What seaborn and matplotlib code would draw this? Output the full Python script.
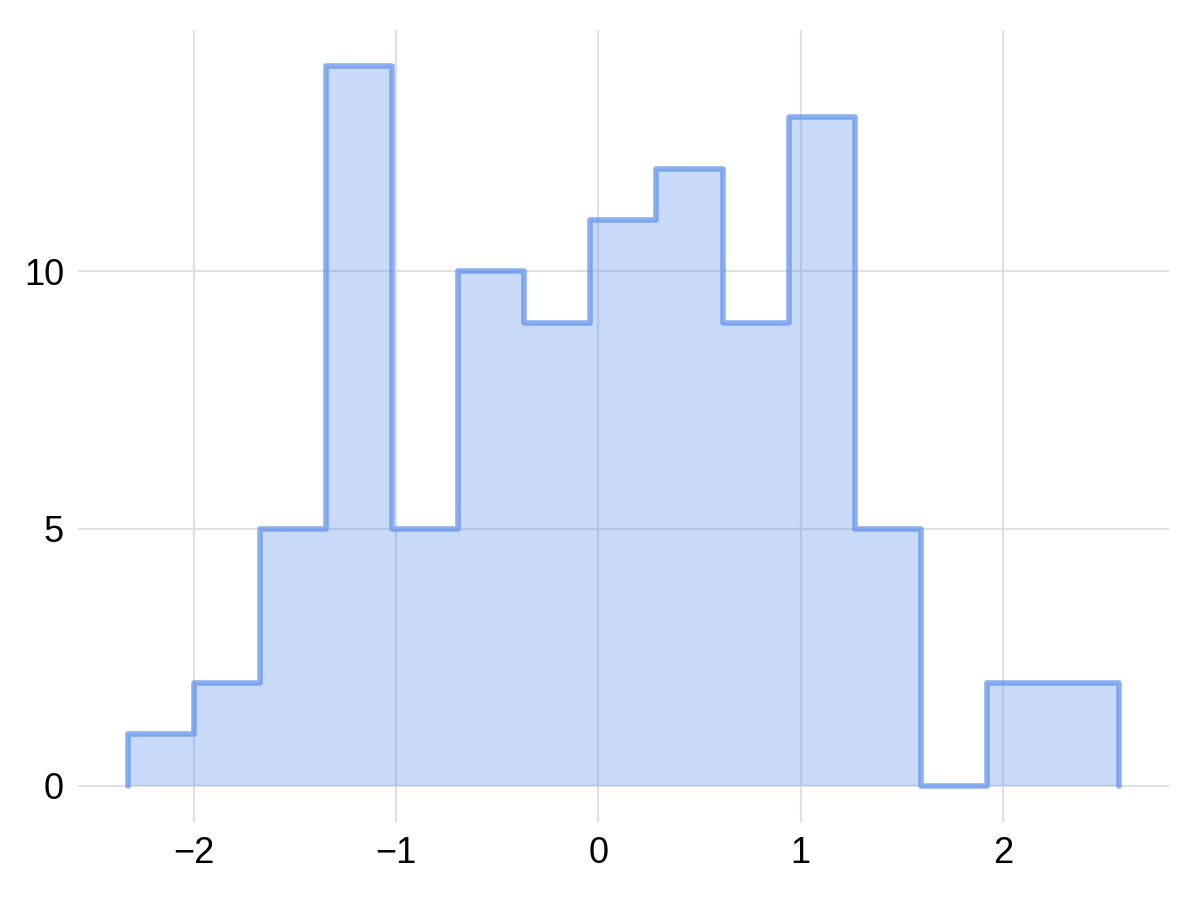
import matplotlib
matplotlib.use("Agg")
import matplotlib.pyplot as plt
import seaborn as sns
import numpy as np

# ------------------------------
# Data
# ------------------------------
bin_edges = [-2.327, -2.000, -1.673, -1.346, -1.020, -0.693, -0.366, -0.040,
             0.287, 0.614, 0.941, 1.267, 1.594, 1.921, 2.248, 2.574]
counts = [1, 2, 5, 14, 5, 10, 9, 11, 12, 9, 13, 5, 0, 2, 2]
x_ticks = [-2, -1, 0, 1, 2]
y_ticks = [0, 5, 10]

centers = [(a + b) / 2 for a, b in zip(bin_edges[:-1], bin_edges[1:])]

sns.set_theme(style="whitegrid")
plt.rcParams['font.family'] = ['Liberation Sans', 'DejaVu Sans']

fig = plt.figure(figsize=(12, 9), dpi=100)
ax = fig.add_axes([0.065, 0.087, 0.909, 0.88])

# filled area
sns.histplot(x=centers, weights=counts, bins=bin_edges, element="step",
             fill=True, color="cornflowerblue", alpha=0.35, linewidth=0,
             ax=ax)
# outline, with the end sides going down to zero
ax.stairs(counts, bin_edges, baseline=0, fill=False,
          edgecolor="cornflowerblue", alpha=0.75, linewidth=4,
          joinstyle="round", capstyle="round")

ax.set_xlim(-2.572, 2.819)
ax.set_ylim(-0.7, 14.7)
ax.set_xticks(x_ticks)
ax.set_yticks(y_ticks)
ax.set_xticklabels([str(t).replace("-", "\u2212") for t in x_ticks])
ax.set_xlabel("")
ax.set_ylabel("")
ax.tick_params(axis="both", length=0, labelsize=26, pad=10, colors="black")
ax.grid(True, color="#e0e0e0", linewidth=1.5)
ax.set_axisbelow(True)
for s in ax.spines.values():
    s.set_visible(False)

plt.savefig("out.png", dpi=100)
